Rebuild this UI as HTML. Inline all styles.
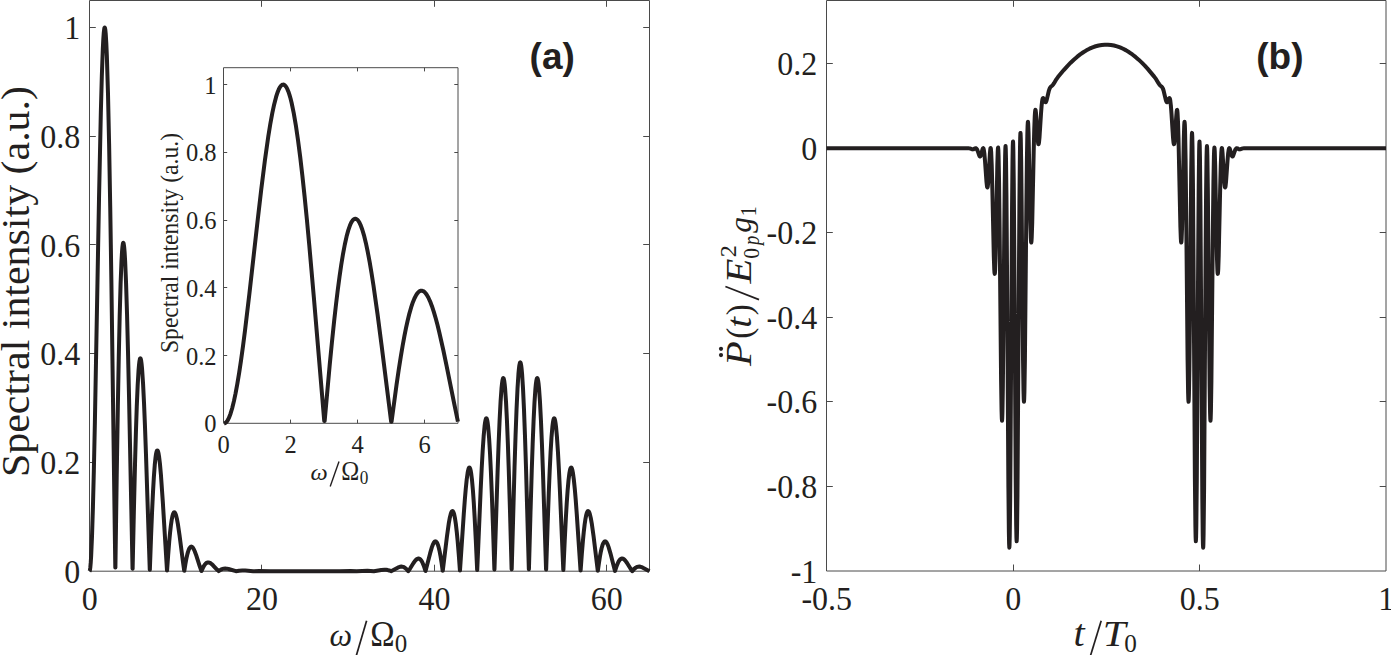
<!DOCTYPE html>
<html><head><meta charset="utf-8"><style>
html,body{margin:0;padding:0;background:#fff;overflow:hidden;}
svg{display:block;}
text{font-family:"Liberation Serif", serif;fill:#231f20;}
.b{font-family:"Liberation Sans", sans-serif;font-weight:bold;}
</style></head><body>
<svg width="1391" height="655" viewBox="0 0 1391 655">
<rect width="1391" height="655" fill="#fff"/>
<path d="M89.5 0.5H649.5V571.2H89.5Z" fill="none" stroke="#4a4a4a" stroke-width="1"/>
<path d="M261.50 571.2V564.7M261.50 0.5V6.8M434.50 571.2V564.7M434.50 0.5V6.8M606.50 571.2V564.7M606.50 0.5V6.8M89.5 462.50H95.8M649.5 462.50H643.2M89.5 353.50H95.8M649.5 353.50H643.2M89.5 244.50H95.8M649.5 244.50H643.2M89.5 136.50H95.8M649.5 136.50H643.2M89.5 27.50H95.8M649.5 27.50H643.2" stroke="#4a4a4a" stroke-width="1" fill="none"/>
<text transform="matrix(0.95 0 0 1 80.3 582.7)" font-size="33.7" text-anchor="end">0</text>
<text transform="matrix(0.95 0 0 1 80.3 474.0)" font-size="33.7" text-anchor="end">0.2</text>
<text transform="matrix(0.95 0 0 1 80.3 365.2)" font-size="33.7" text-anchor="end">0.4</text>
<text transform="matrix(0.95 0 0 1 80.3 256.5)" font-size="33.7" text-anchor="end">0.6</text>
<text transform="matrix(0.95 0 0 1 80.3 147.7)" font-size="33.7" text-anchor="end">0.8</text>
<text transform="matrix(0.95 0 0 1 80.3 39.0)" font-size="33.7" text-anchor="end">1</text>
<text transform="matrix(0.95 0 0 1 89.8 610)" font-size="33.7" text-anchor="middle">0</text>
<text transform="matrix(0.95 0 0 1 262.1 610)" font-size="33.7" text-anchor="middle">20</text>
<text transform="matrix(0.95 0 0 1 434.4 610)" font-size="33.7" text-anchor="middle">40</text>
<text transform="matrix(0.95 0 0 1 606.7 610)" font-size="33.7" text-anchor="middle">60</text>
<text transform="translate(29.0 477) rotate(-90)" font-size="40.5" textLength="391" lengthAdjust="spacingAndGlyphs">Spectral intensity (a.u.)</text>
<text font-size="100" font-style="italic" transform="matrix(0.31960 0 0 0.32183 329.54 646.39)">ω</text>
<path d="M356.2 656L366.6 620.8" stroke="#231f20" stroke-width="1.7"/>
<text font-size="100" transform="matrix(0.32831 0 0 0.36248 370.30 646.30)">Ω</text>
<text font-size="100" transform="matrix(0.25010 0 0 0.24600 394.75 651.66)">0</text>
<text class="b" x="529.6" y="69" font-size="37">(a)</text>
<path d="M89.50 571.20L89.71 570.95L89.92 570.20L90.34 567.20L90.76 562.23L91.18 555.33L92.02 535.91L92.93 507.03L93.84 470.95L94.89 421.99L99.02 198.16L100.84 112.37L101.82 76.26L102.80 49.29L103.29 39.65L103.78 32.75L104.27 28.67L104.48 27.81L104.69 27.49L104.83 27.58L104.97 27.91L105.25 29.29L105.74 34.06L106.30 43.15L106.86 56.09L107.98 93.08L109.10 143.83L110.22 206.50L111.41 283.53L115.29 567.47L115.40 567.48L116.73 475.34L117.85 406.36L118.76 357.67L119.67 316.73L120.58 284.36L121.49 261.10L121.98 252.46L122.40 247.25L122.82 244.05L123.03 243.19L123.17 242.90L123.31 242.83L123.52 243.13L123.73 243.92L124.22 247.60L124.64 252.78L125.13 261.08L126.04 282.54L127.02 313.53L128.00 351.36L129.05 397.75L132.53 568.69L132.63 568.70L133.89 510.49L135.01 464.30L135.92 431.93L136.76 406.83L137.67 385.30L138.58 369.99L139.00 365.06L139.42 361.48L139.84 359.25L140.05 358.63L140.33 358.32L140.54 358.47L140.75 358.94L141.17 360.81L141.59 363.91L142.08 369.01L143.06 383.62L144.04 403.45L144.95 425.69L146.00 454.82L149.76 569.68L149.86 569.69L151.04 536.92L152.09 511.14L153.00 492.04L153.84 477.42L154.75 465.06L155.59 456.99L156.01 454.16L156.43 452.13L156.85 450.89L157.06 450.56L157.34 450.42L157.55 450.53L157.76 450.82L158.18 451.95L158.60 453.77L159.02 456.25L159.93 463.72L160.91 474.56L162.80 501.56L166.99 570.41L167.09 570.41L168.19 554.58L169.24 541.42L170.08 532.52L170.85 525.73L171.69 519.90L172.53 515.73L172.95 514.27L173.37 513.22L173.79 512.57L174.28 512.30L174.70 512.47L175.12 513.00L175.54 513.87L175.96 515.07L176.87 518.67L177.85 523.88L179.53 535.19L182.82 560.71L184.22 570.85L184.32 570.85L185.34 564.34L186.32 558.93L187.16 555.05L187.93 552.12L188.77 549.65L189.61 547.93L190.45 546.93L190.87 546.69L191.29 546.61L192.06 546.89L192.90 547.74L193.81 549.23L194.72 551.22L196.26 555.39L199.76 566.29L201.45 571.07L201.55 571.07L202.49 568.79L203.40 566.90L204.17 565.56L204.94 564.46L205.71 563.60L206.55 562.94L207.39 562.56L208.23 562.43L209.00 562.52L209.85 562.82L210.69 563.30L211.60 563.99L213.21 565.52L216.99 569.58L218.68 571.16L220.56 569.88L222.03 569.14L223.57 568.69L225.25 568.53L226.79 568.64L228.47 568.98L235.91 571.19L239.11 570.66L242.26 570.51L245.27 570.61L253.14 571.20L259.27 571.05L270.37 571.20L339.40 571.20L350.49 571.11L356.63 571.20L367.50 570.82L370.66 570.91L373.86 571.19L381.30 570.01L384.52 569.77L386.13 569.85L387.74 570.10L389.21 570.49L391.09 571.18L398.17 567.40L399.92 566.79L401.46 566.59L402.30 566.65L403.14 566.85L403.98 567.18L404.82 567.67L406.36 568.95L408.22 571.13L408.32 571.13L409.93 568.77L413.50 563.02L415.04 560.87L415.95 559.85L416.86 559.09L417.70 558.66L418.47 558.52L419.31 558.69L420.15 559.22L420.99 560.11L421.83 561.39L422.60 562.90L423.44 564.90L424.42 567.67L425.45 571.02L425.55 571.02L430.16 553.14L431.91 547.16L432.82 544.70L433.73 542.84L434.57 541.76L434.99 541.47L435.41 541.36L435.90 541.47L436.32 541.78L437.16 543.00L438.00 545.05L438.91 548.22L439.68 551.66L440.52 556.16L441.57 562.80L442.68 570.80L442.78 570.80L446.96 536.38L448.78 523.38L449.77 517.92L450.68 514.13L451.17 512.69L451.59 511.80L452.01 511.26L452.43 511.08L452.92 511.35L453.34 511.99L453.76 513.02L454.18 514.44L455.02 518.49L455.93 524.66L456.77 531.94L457.61 540.64L458.73 554.19L459.91 570.45L460.01 570.45L463.77 514.14L464.82 499.93L465.73 489.12L466.71 479.53L467.62 472.92L468.11 470.40L468.53 468.85L468.95 467.89L469.16 467.65L469.37 467.55L469.65 467.67L469.86 467.95L470.28 468.99L470.70 470.68L471.12 473.03L472.03 480.36L472.94 490.69L473.78 502.73L474.69 518.26L475.81 540.41L477.14 570.00L477.24 570.00L480.64 490.41L481.69 468.51L482.67 450.74L483.65 436.28L484.56 426.36L485.05 422.58L485.47 420.25L485.96 418.65L486.17 418.34L486.38 418.26L486.66 418.51L486.87 418.97L487.29 420.58L487.71 423.14L488.20 427.29L489.11 438.33L490.02 453.50L490.86 470.89L491.77 492.99L492.96 526.09L494.37 569.55L494.47 569.55L497.58 472.08L498.63 443.26L499.61 420.06L500.59 401.31L501.50 388.52L501.99 383.66L502.41 380.67L502.90 378.59L503.11 378.18L503.32 378.05L503.60 378.33L503.81 378.87L504.23 380.83L504.65 383.95L505.14 389.03L506.05 402.48L506.96 420.86L507.87 443.71L508.78 470.42L510.04 512.40L511.60 569.27L511.71 569.27L514.52 467.81L515.57 435.18L516.55 409.13L517.53 388.22L518.44 374.05L518.93 368.67L519.35 365.37L519.84 363.06L520.05 362.58L520.26 362.42L520.47 362.57L520.68 363.03L521.17 365.30L521.59 368.57L522.08 373.92L522.99 388.02L523.97 408.87L524.95 434.87L526.00 467.45L528.83 569.27L528.94 569.27L530.49 512.78L531.75 470.76L532.66 444.01L533.57 421.11L534.48 402.67L535.39 389.16L535.88 384.05L536.30 380.90L536.72 378.91L536.93 378.35L537.21 378.05L537.42 378.16L537.63 378.56L538.12 380.60L538.54 383.57L539.03 388.40L539.94 401.13L540.92 419.83L541.90 442.99L542.95 471.77L546.06 569.55L546.17 569.55L547.57 526.41L548.76 493.27L549.67 471.13L550.58 452.39L551.49 437.48L552.40 426.72L552.89 422.72L553.31 420.30L553.73 418.82L553.94 418.42L554.22 418.26L554.43 418.41L554.64 418.78L555.13 420.53L555.55 422.97L556.04 426.89L556.95 437.04L557.93 451.73L558.91 469.68L559.96 491.72L563.29 570.00L563.40 570.00L564.72 540.63L565.84 518.46L566.75 502.90L567.59 490.83L568.50 480.47L569.41 473.10L569.83 470.74L570.25 469.03L570.67 467.97L570.88 467.69L571.16 467.55L571.37 467.64L571.58 467.88L572.00 468.82L572.42 470.35L572.91 472.86L573.82 479.44L574.80 489.00L575.71 499.79L576.76 513.99L580.53 570.45L580.63 570.45L581.80 554.33L582.92 540.76L583.76 532.05L584.60 524.75L585.51 518.56L586.35 514.49L586.77 513.05L587.19 512.01L587.61 511.36L588.10 511.08L588.52 511.25L588.94 511.78L589.36 512.66L589.85 514.10L590.76 517.86L591.74 523.31L593.63 536.84L597.76 570.80L597.86 570.80L598.95 562.87L600.00 556.22L600.84 551.71L601.61 548.27L602.52 545.09L603.36 543.02L604.20 541.79L604.62 541.48L605.11 541.36L605.53 541.46L605.95 541.75L606.79 542.82L607.70 544.67L608.61 547.13L610.37 553.10L614.99 571.02L615.09 571.02L616.11 567.70L617.09 564.92L617.93 562.92L618.70 561.41L619.54 560.13L620.38 559.23L621.22 558.70L622.06 558.52L622.83 558.65L623.67 559.08L624.58 559.84L625.49 560.85L627.03 563.00L630.60 568.75L632.22 571.13L632.32 571.13L634.24 568.89L635.78 567.63L636.55 567.19L637.39 566.85L638.23 566.65L639.07 566.59L640.68 566.81L642.43 567.43L649.45 571.18" fill="none" stroke="#231f20" stroke-width="4" stroke-linejoin="round"/>
<rect x="223.5" y="67.7" width="234.5" height="355.6" fill="#fff"/>
<path d="M223.5 67.7H458.0V423.3H223.5Z" fill="none" stroke="#4a4a4a" stroke-width="1"/>
<path d="M290.50 423.3V419.6M290.50 67.7V71.4M357.50 423.3V419.6M357.50 67.7V71.4M424.50 423.3V419.6M424.50 67.7V71.4M223.5 355.50H227.2M458 355.50H454.3M223.5 287.50H227.2M458 287.50H454.3M223.5 220.50H227.2M458 220.50H454.3M223.5 152.50H227.2M458 152.50H454.3M223.5 84.50H227.2M458 84.50H454.3" stroke="#4a4a4a" stroke-width="1" fill="none"/>
<text x="216.5" y="432.4" font-size="24.5" text-anchor="end">0</text>
<text x="216.5" y="364.7" font-size="24.5" text-anchor="end">0.2</text>
<text x="216.5" y="296.9" font-size="24.5" text-anchor="end">0.4</text>
<text x="216.5" y="229.2" font-size="24.5" text-anchor="end">0.6</text>
<text x="216.5" y="161.4" font-size="24.5" text-anchor="end">0.8</text>
<text x="216.5" y="93.7" font-size="24.5" text-anchor="end">1</text>
<text x="223.5" y="452.7" font-size="24.5" text-anchor="middle">0</text>
<text x="290.5" y="452.7" font-size="24.5" text-anchor="middle">2</text>
<text x="357.5" y="452.7" font-size="24.5" text-anchor="middle">4</text>
<text x="424.5" y="452.7" font-size="24.5" text-anchor="middle">6</text>
<text transform="translate(178.0 353) rotate(-90)" font-size="24.5" textLength="220" lengthAdjust="spacingAndGlyphs">Spectral intensity (a.u.)</text>
<text font-size="100" font-style="italic" transform="matrix(0.24328 0 0 0.23197 310.49 480.17)">ω</text>
<path d="M330.2 486.5L339 461.4" stroke="#231f20" stroke-width="1.4"/>
<text font-size="100" transform="matrix(0.24232 0 0 0.27337 341.25 480.40)">Ω</text>
<text font-size="100" transform="matrix(0.17224 0 0 0.18079 359.84 484.42)">0</text>
<path d="M224.10 423.30L224.80 423.18L225.62 422.76L226.44 422.02L227.26 420.97L228.08 419.60L228.90 417.93L230.53 413.68L232.17 408.24L233.93 401.14L235.56 393.38L237.32 383.91L239.19 372.59L241.06 360.10L243.05 345.71L245.04 330.29L249.36 294.04L257.67 220.16L261.18 189.98L264.92 160.19L268.31 136.30L270.30 124.01L272.29 113.17L274.16 104.42L276.03 97.16L276.97 94.12L277.90 91.49L278.84 89.27L279.66 87.67L280.59 86.25L281.41 85.36L282.35 84.76L283.17 84.59L283.75 84.68L284.22 84.88L285.27 85.73L286.33 87.15L287.38 89.14L288.43 91.70L289.48 94.83L290.54 98.51L291.59 102.75L293.69 112.86L295.80 125.08L298.02 140.17L300.25 157.37L302.35 175.45L304.57 196.26L306.80 218.63L309.25 244.90L313.81 296.91L324.25 420.97L324.65 420.98L329.72 364.80L331.94 342.07L334.17 320.79L336.04 304.15L337.79 289.71L339.55 276.46L341.18 265.23L343.05 253.80L344.81 244.50L346.56 236.59L348.32 230.12L350.07 225.10L350.89 223.26L351.83 221.53L352.65 220.37L353.58 219.42L354.40 218.92L355.34 218.74L356.15 218.91L356.97 219.38L357.79 220.16L358.73 221.41L359.55 222.82L360.48 224.78L362.24 229.45L363.99 235.35L365.86 242.93L367.73 251.76L369.72 262.39L371.59 273.47L373.47 285.47L377.56 314.38L381.54 344.97L391.15 421.74L391.55 421.74L396.51 384.94L398.73 369.77L400.84 356.36L402.59 345.98L404.34 336.38L405.98 328.17L407.62 320.71L409.37 313.60L411.13 307.43L412.88 302.21L414.52 298.22L416.16 295.07L416.98 293.82L417.91 292.64L418.73 291.84L419.67 291.19L420.49 290.84L421.42 290.69L422.24 290.78L423.06 291.07L423.88 291.55L424.81 292.35L425.63 293.25L426.57 294.51L428.32 297.52L430.08 301.32L431.95 306.19L433.82 311.86L435.69 318.25L437.45 324.83L439.32 332.40L443.29 350.06L446.69 366.31L454.41 404.73L457.92 421.72" fill="none" stroke="#231f20" stroke-width="4" stroke-linejoin="round"/>
<path d="M826.5 0.5H1386V571.0H826.5Z" fill="none" stroke="#4a4a4a" stroke-width="1"/>
<path d="M1013.50 571.0V564.5M1013.50 0.5V6.8M1199.50 571.0V564.5M1199.50 0.5V6.8M826.5 63.50H832.8M1386 63.50H1379.7M826.5 148.50H832.8M1386 148.50H1379.7M826.5 232.50H832.8M1386 232.50H1379.7M826.5 317.50H832.8M1386 317.50H1379.7M826.5 401.50H832.8M1386 401.50H1379.7M826.5 486.50H832.8M1386 486.50H1379.7" stroke="#4a4a4a" stroke-width="1" fill="none"/>
<text transform="matrix(0.95 0 0 1 817.3 75.1)" font-size="33.7" text-anchor="end">0.2</text>
<text transform="matrix(0.95 0 0 1 817.3 159.7)" font-size="33.7" text-anchor="end">0</text>
<text transform="matrix(0.95 0 0 1 817.3 244.3)" font-size="33.7" text-anchor="end">-0.2</text>
<text transform="matrix(0.95 0 0 1 817.3 328.8)" font-size="33.7" text-anchor="end">-0.4</text>
<text transform="matrix(0.95 0 0 1 817.3 413.4)" font-size="33.7" text-anchor="end">-0.6</text>
<text transform="matrix(0.95 0 0 1 817.3 497.9)" font-size="33.7" text-anchor="end">-0.8</text>
<text transform="matrix(0.95 0 0 1 817.3 582.5)" font-size="33.7" text-anchor="end">-1</text>
<text transform="matrix(0.95 0 0 1 826.8 610)" font-size="33.7" text-anchor="middle">-0.5</text>
<text transform="matrix(0.95 0 0 1 1013.3 610)" font-size="33.7" text-anchor="middle">0</text>
<text transform="matrix(0.95 0 0 1 1199.8 610)" font-size="33.7" text-anchor="middle">0.5</text>
<text transform="matrix(0.95 0 0 1 1386.3 610)" font-size="33.7" text-anchor="middle">1</text>
<text font-size="100" font-style="italic" transform="matrix(0.40172 0 0 0.37363 1073.53 646.34)">t</text>
<path d="M1090.4 656L1101.2 620.8" stroke="#231f20" stroke-width="1.7"/>
<text font-size="100" font-style="italic" transform="matrix(0.41287 0 0 0.35279 1102.80 646.30)">T</text>
<text font-size="100" transform="matrix(0.25246 0 0 0.24600 1124.34 651.66)">0</text>
<text font-size="100" font-style="italic" transform="matrix(0 -0.40621 0.35584 0 751.00 365.88)">P</text>
<circle cx="721" cy="348.8" r="2.1" fill="#231f20"/><circle cx="721" cy="355.1" r="2.1" fill="#231f20"/>
<text font-size="100" transform="matrix(0 -0.33095 0.36504 0 750.93 338.75)">(</text>
<text font-size="100" font-style="italic" transform="matrix(0 -0.38991 0.35792 0 750.95 327.71)">t</text>
<text font-size="100" transform="matrix(0 -0.33095 0.36504 0 750.93 315.17)">)</text>
<path d="M759 299.6L725.4 286.5" stroke="#231f20" stroke-width="1.7"/>
<text font-size="100" font-style="italic" transform="matrix(0 -0.40729 0.35584 0 751.00 283.52)">E</text>
<text font-size="100" transform="matrix(0 -0.24197 0.24014 0 736.40 257.16)">2</text>
<text font-size="100" transform="matrix(0 -0.21707 0.24007 0 759.37 258.83)">0</text>
<text font-size="100" font-style="italic" transform="matrix(0 -0.18549 0.22073 0 759.00 245.01)">p</text>
<text font-size="100" font-style="italic" transform="matrix(0 -0.31475 0.31890 0 750.51 232.72)">g</text>
<text font-size="100" transform="matrix(0 -0.20168 0.23631 0 755.90 216.17)">1</text>
<text class="b" x="1256.3" y="69" font-size="37">(b)</text>
<path d="M826.50 148.20L960.90 148.20L965.40 148.31L968.31 148.19L969.71 148.37L971.89 149.23L972.73 149.39L973.54 149.23L975.11 148.34L975.75 148.18L976.09 148.27L976.43 148.51L977.04 149.40L977.66 150.87L979.20 155.40L979.64 156.22L980.06 156.51L980.29 156.43L980.48 156.23L980.90 155.37L982.52 149.24L982.89 148.36L983.20 148.15L983.50 148.54L983.78 149.51L984.37 153.61L984.96 160.35L986.50 182.06L986.97 186.19L987.20 187.18L987.39 187.47L987.62 187.10L987.81 186.15L988.23 182.22L989.91 153.55L990.30 149.23L990.47 148.29L990.64 148.01L990.78 148.32L990.92 149.16L991.17 152.08L991.70 164.29L992.29 186.45L993.80 256.11L994.27 269.57L994.50 272.85L994.72 273.90L994.92 272.91L995.11 270.11L995.53 258.29L996.01 236.76L997.32 164.94L997.74 151.26L997.94 148.21L998.11 147.55L998.36 150.21L998.58 156.41L999.06 181.46L999.59 226.20L1001.10 381.04L1001.58 410.86L1001.80 418.22L1002.02 420.77L1002.22 418.91L1002.44 412.10L1002.86 386.60L1004.68 187.63L1005.13 156.12L1005.35 148.11L1005.55 145.91L1005.77 149.20L1006.00 158.74L1006.44 195.79L1006.95 261.46L1008.40 487.48L1008.88 532.44L1009.10 543.62L1009.33 547.70L1009.52 545.28L1009.75 535.73L1010.17 499.54L1010.64 434.94L1012.04 207.64L1012.52 159.26L1012.74 146.76L1012.96 141.57L1012.99 141.45L1013.05 141.56L1013.16 143.18L1013.35 150.48L1013.77 184.09L1014.25 246.58L1015.70 479.24L1016.18 525.43L1016.43 537.90L1016.66 541.34L1016.85 538.35L1017.05 529.88L1017.47 494.63L1019.43 199.50L1019.93 151.23L1020.18 138.17L1020.40 133.20L1020.49 132.94L1020.57 133.55L1020.77 138.23L1021.16 160.17L1021.61 201.61L1023.01 358.26L1023.48 390.55L1023.73 399.27L1023.96 401.74L1024.18 399.22L1024.41 391.87L1024.91 359.65L1026.39 204.85L1026.92 158.69L1027.37 133.33L1027.59 125.99L1027.82 122.28L1027.90 121.81L1027.99 121.81L1028.18 123.61L1028.55 132.95L1030.34 223.31L1030.81 237.97L1031.06 241.69L1031.18 242.39L1031.29 242.50L1031.51 240.98L1031.73 237.23L1032.21 222.83L1033.69 151.89L1034.25 129.45L1034.76 116.18L1035.01 112.31L1035.26 110.25L1035.43 109.83L1035.60 110.10L1035.93 112.46L1036.32 117.55L1037.67 139.09L1038.14 143.27L1038.37 144.11L1038.48 144.24L1038.59 144.19L1038.81 143.52L1039.04 142.15L1039.51 137.22L1041.02 113.49L1041.58 106.09L1042.11 101.23L1042.39 99.60L1042.67 98.58L1042.98 98.09L1043.15 98.05L1043.32 98.16L1043.71 98.82L1044.58 101.08L1045.00 101.91L1045.44 102.28L1045.67 102.23L1045.89 102.01L1046.31 101.16L1046.79 99.62L1048.91 90.58L1049.50 88.83L1050.09 87.62L1050.76 86.75L1052.35 85.44L1053.22 84.45L1054.06 83.18L1056.33 79.30L1057.95 77.05L1063.77 70.04L1067.38 66.04L1070.65 62.69L1073.81 59.70L1077.03 56.91L1080.19 54.43L1083.32 52.24L1086.43 50.33L1089.53 48.69L1092.61 47.34L1095.66 46.26L1098.71 45.45L1101.76 44.91L1104.81 44.64L1107.86 44.65L1110.91 44.93L1113.96 45.49L1117.01 46.31L1120.03 47.39L1123.08 48.75L1126.16 50.38L1129.23 52.28L1132.34 54.46L1135.47 56.91L1138.66 59.67L1141.82 62.66L1144.79 65.69L1147.73 68.88L1154.19 76.60L1156.09 79.17L1158.47 83.23L1159.28 84.45L1160.15 85.44L1161.74 86.75L1162.36 87.53L1162.97 88.76L1163.56 90.49L1165.71 99.62L1166.19 101.16L1166.64 102.04L1167.03 102.29L1167.42 102.03L1167.87 101.21L1168.99 98.43L1169.35 98.05L1169.66 98.24L1169.97 99.02L1170.27 100.50L1170.86 105.47L1171.48 113.49L1172.99 137.22L1173.46 142.15L1173.69 143.52L1173.88 144.14L1173.99 144.25L1174.11 144.16L1174.33 143.42L1174.81 139.42L1176.20 117.12L1176.65 111.67L1176.88 110.21L1176.99 109.88L1177.10 109.85L1177.32 110.74L1177.52 112.65L1178.00 121.90L1178.50 138.67L1180.40 226.91L1180.82 238.37L1181.04 241.57L1181.24 242.53L1181.44 241.69L1181.63 239.05L1182.05 227.59L1182.50 207.99L1183.81 138.29L1184.23 125.12L1184.43 122.28L1184.51 121.81L1184.60 121.81L1184.85 124.73L1185.07 131.15L1185.58 158.69L1186.11 204.85L1187.59 359.65L1188.09 391.87L1188.32 399.22L1188.54 401.74L1188.74 399.85L1188.93 394.14L1189.35 369.72L1189.83 325.31L1191.20 171.53L1191.65 141.58L1191.87 134.42L1191.98 133.05L1192.04 132.93L1192.07 133.01L1192.26 136.34L1192.49 146.01L1192.93 183.36L1193.44 249.50L1194.89 478.32L1195.40 526.48L1195.62 537.47L1195.84 541.34L1196.07 537.90L1196.32 525.43L1196.80 479.24L1198.22 250.86L1198.70 187.12L1199.12 151.98L1199.31 143.88L1199.51 141.45L1199.73 145.71L1199.96 157.31L1200.43 204.07L1202.33 499.54L1202.75 535.73L1202.95 544.48L1203.15 547.70L1203.26 547.02L1203.37 544.53L1203.59 534.22L1204.10 487.48L1205.58 257.29L1206.08 192.82L1206.53 157.20L1206.76 148.44L1206.95 145.91L1207.15 148.11L1207.37 156.12L1207.82 187.63L1209.64 386.60L1210.06 412.10L1210.28 418.91L1210.48 420.77L1210.70 418.22L1210.92 410.86L1211.40 381.04L1212.91 226.20L1213.44 181.46L1213.92 156.41L1214.14 150.21L1214.39 147.55L1214.56 148.21L1214.76 151.26L1215.18 164.94L1216.49 236.76L1216.97 258.29L1217.39 270.11L1217.58 272.91L1217.78 273.90L1218.00 272.85L1218.23 269.57L1218.70 256.11L1220.21 186.45L1220.80 164.29L1221.33 152.08L1221.58 149.16L1221.72 148.32L1221.86 148.01L1222.03 148.29L1222.20 149.23L1222.59 153.55L1224.27 182.22L1224.69 186.15L1224.88 187.10L1225.11 187.47L1225.30 187.18L1225.53 186.19L1226.00 182.06L1227.54 160.35L1228.13 153.61L1228.72 149.51L1229.00 148.54L1229.30 148.15L1229.61 148.36L1229.98 149.24L1231.60 155.37L1232.02 156.23L1232.21 156.43L1232.44 156.51L1232.86 156.22L1233.30 155.40L1234.84 150.87L1235.46 149.40L1236.07 148.51L1236.41 148.27L1236.75 148.18L1237.39 148.34L1238.96 149.23L1239.77 149.39L1240.61 149.23L1242.79 148.37L1244.19 148.19L1247.10 148.31L1251.60 148.20L1386.00 148.20" fill="none" stroke="#231f20" stroke-width="4" stroke-linejoin="round"/>
</svg>
</body></html>
